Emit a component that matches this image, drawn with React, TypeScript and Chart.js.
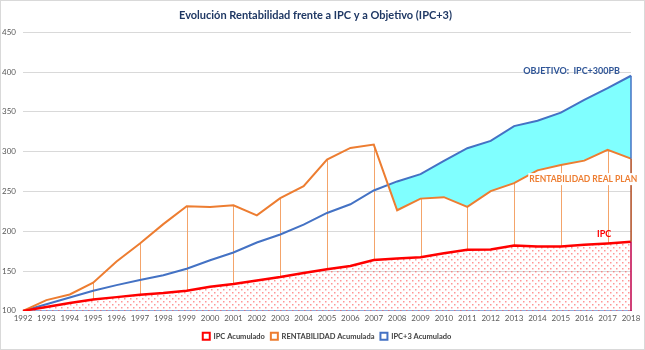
import React, { useEffect, useRef } from "react";
import { Chart, registerables } from "chart.js";

Chart.register(...registerables);

const years = [
  "1992", "1993", "1994", "1995", "1996", "1997", "1998", "1999", "2000",
  "2001", "2002", "2003", "2004", "2005", "2006", "2007", "2008", "2009",
  "2010", "2011", "2012", "2013", "2014", "2015", "2016", "2017", "2018",
];

const ipcAcumulado = [
  100, 105, 110, 114.3, 117.3, 120.2, 122.4, 125.3, 130.3, 133.7, 138.3, 142.6,
  147.6, 152.2, 156.5, 164, 165.7, 167.4, 172.5, 176.7, 177, 182.1, 180.8,
  180.8, 183, 184.6, 186.8,
];

const rentabilidadAcumulada = [
  100, 113.5, 120.6, 135.4, 162, 184.7, 209, 231.4, 230.6, 232.7, 220, 241.5,
  256.7, 290, 304.7, 308.9, 226.4, 241, 242.8, 230.6, 250.4, 260.5, 276.5,
  283.2, 288.7, 302.2, 291.2,
];

const ipcMas3Acumulado = [
  100, 108.4, 116.9, 125.3, 132.4, 138.7, 144.7, 153, 163.6, 173.3, 185.9, 196,
  208.3, 223, 233.9, 251.2, 262.6, 271.8, 288.3, 304.3, 313.5, 332.1, 338.8,
  348.9, 365, 379.7, 395.3,
];

const dropLineYears = [
  "1995", "1997", "1999", "2001", "2003", "2005", "2007", "2009", "2011",
  "2013", "2015", "2017", "2018",
];

const yMin = 100;
const yMax = 450;
const yStep = 50;

const titleText = "Evolución Rentabilidad frente a IPC y a Objetivo (IPC+3)";
const seriesLabels = ["IPC Acumulado", "RENTABILIDAD Acumulada", "IPC+3 Acumulado"];
const annotationObjetivo = "OBJETIVO:  IPC+300PB";
const annotationRentabilidad = "RENTABILIDAD REAL PLAN";
const annotationIpc = "IPC";

const FONT = "Lato, 'Open Sans', sans-serif";

const RED = "#FF0000";
const ORANGE = "#ED7D31";
const BLUE = "#4472C4";

function makeDotPattern(): CanvasPattern | string {
  const c = document.createElement("canvas");
  c.width = 6;
  c.height = 6;
  const g = c.getContext("2d");
  if (!g) return "rgba(255,128,128,0.3)";
  g.fillStyle = "rgba(255,80,80,0.6)";
  g.fillRect(1, 1, 1.5, 1.5);
  g.fillRect(4, 4, 1.5, 1.5);
  const p = g.createPattern(c, "repeat");
  return p || "rgba(255,128,128,0.3)";
}

const dropLinesPlugin = {
  id: "dropLines",
  beforeDatasetsDraw(chart: any) {
    const { ctx, scales } = chart;
    const x = scales.x;
    const y = scales.y;
    ctx.save();
    ctx.lineWidth = 1;
    ctx.strokeStyle = "#F4A46A";
    dropLineYears.forEach((yr) => {
      const i = years.indexOf(yr);
      if (i < 0) return;
      const px = Math.round(x.getPixelForValue(i)) + 0.5;
      ctx.beginPath();
      ctx.moveTo(px, y.getPixelForValue(rentabilidadAcumulada[i]));
      ctx.lineTo(px, y.getPixelForValue(ipcAcumulado[i]));
      ctx.stroke();
    });
    ctx.restore();
  },
  afterDatasetsDraw(chart: any) {
    const { ctx, scales } = chart;
    const x = scales.x;
    const y = scales.y;
    const last = years.length - 1;
    const px = x.getPixelForValue(last);
    ctx.save();
    ctx.lineWidth = 1.5;
    ctx.strokeStyle = BLUE;
    ctx.beginPath();
    ctx.moveTo(px, y.getPixelForValue(ipcMas3Acumulado[last]));
    ctx.lineTo(px, y.getPixelForValue(rentabilidadAcumulada[last]));
    ctx.stroke();
    ctx.strokeStyle = "#B05A3A";
    ctx.beginPath();
    ctx.moveTo(px, y.getPixelForValue(rentabilidadAcumulada[last]));
    ctx.lineTo(px, y.getPixelForValue(ipcAcumulado[last]));
    ctx.stroke();
    ctx.strokeStyle = "#C0004A";
    ctx.beginPath();
    ctx.moveTo(px, y.getPixelForValue(ipcAcumulado[last]));
    ctx.lineTo(px, y.getPixelForValue(yMin));
    ctx.stroke();
    ctx.restore();
  },
  afterDraw(chart: any) {
    const { ctx, scales } = chart;
    const x = scales.x;
    const y = scales.y;
    const last = years.length - 1;
    ctx.save();
    ctx.textBaseline = "middle";

    ctx.font = `bold 9px ${FONT}`;
    ctx.textAlign = "right";
    ctx.fillStyle = "#2F5597";
    ctx.fillText(annotationObjetivo, x.getPixelForValue(last) - 11, y.getPixelForValue(401.5));

    ctx.font = `bold 8.5px ${FONT}`;
    ctx.textAlign = "left";
    const rx = x.getPixelForValue(last - 4.35);
    const ry = y.getPixelForValue(265.5);
    const w = ctx.measureText(annotationRentabilidad).width;
    ctx.fillStyle = "#FFFFFF";
    ctx.fillRect(rx - 1, ry - 6, w + 2, 12);
    ctx.fillStyle = ORANGE;
    ctx.fillText(annotationRentabilidad, rx, ry);

    ctx.font = `bold 9px ${FONT}`;
    ctx.textAlign = "center";
    ctx.fillStyle = RED;
    ctx.fillText(annotationIpc, x.getPixelForValue(last - 1.15), y.getPixelForValue(197));
    ctx.restore();
  },
};

export default function App() {
  const ref = useRef<HTMLCanvasElement | null>(null);

  useEffect(() => {
    if (!ref.current) return;
    const pattern = makeDotPattern();
    const chart = new Chart(ref.current, {
      type: "line",
      data: {
        labels: years,
        datasets: [
          {
            label: seriesLabels[0],
            data: ipcAcumulado,
            borderColor: RED,
            backgroundColor: pattern as any,
            borderWidth: 2.5,
            pointRadius: 0,
            tension: 0,
            fill: "start",
          },
          {
            label: seriesLabels[1],
            data: rentabilidadAcumulada,
            borderColor: ORANGE,
            backgroundColor: ORANGE,
            borderWidth: 2,
            pointRadius: 0,
            tension: 0,
            fill: false,
          },
          {
            label: seriesLabels[2],
            data: ipcMas3Acumulado,
            borderColor: BLUE,
            backgroundColor: BLUE,
            borderWidth: 2,
            pointRadius: 0,
            tension: 0,
            fill: { target: 1, above: "#80FFFF", below: "rgba(0,0,0,0)" },
          },
        ],
      },
      options: {
        animation: false,
        responsive: false,
        maintainAspectRatio: false,
        layout: { padding: { left: 0, right: 14, top: 0, bottom: 0 } },
        plugins: {
          title: {
            display: true,
            text: titleText,
            color: "#1F3864",
            font: { family: FONT, size: 11, weight: "bold" },
            padding: { top: 9, bottom: 10 },
          },
          legend: {
            position: "bottom",
            fullSize: false,
            labels: {
              boxWidth: 7,
              boxHeight: 7,
              padding: 6,
              color: "#404040",
              font: { family: FONT, size: 7.5, weight: "bold" },
              generateLabels: (c: any) =>
                c.data.datasets.map((ds: any, i: number) => ({
                  text: ds.label,
                  fillStyle: "#FFFFFF",
                  strokeStyle: ds.borderColor,
                  lineWidth: 2,
                  hidden: false,
                  datasetIndex: i,
                  fontColor: "#404040",
                })),
            },
          },
          tooltip: { enabled: false },
        },
        scales: {
          x: {
            offset: false,
            grid: { color: "rgba(0,0,0,0)", drawTicks: false },
            border: { display: true, color: "#8FAADC", width: 1 },
            ticks: {
              color: "#595959",
              font: { family: FONT, size: 8 },
              padding: 3,
              maxRotation: 0,
              autoSkip: false,
            },
          },
          y: {
            min: yMin,
            max: yMax,
            grid: { color: "#D9D9D9", drawTicks: false },
            border: { display: false },
            ticks: {
              stepSize: yStep,
              color: "#595959",
              font: { family: FONT, size: 8 },
              padding: 7,
            },
            afterFit: (s: any) => {
              s.width = 23;
            },
          },
        },
      },
      plugins: [dropLinesPlugin],
    });
    return () => chart.destroy();
  }, []);

  return (
    <div
      style={{
        position: "absolute",
        left: 0,
        top: 0,
        width: 645,
        height: 350,
        background: "#fff",
      }}
    >
      <canvas ref={ref} width={645} height={350} style={{ display: "block" }} />
      <div
        style={{
          position: "absolute",
          left: 0,
          top: 0,
          width: 643,
          height: 348,
          border: "1px solid #D9D9D9",
          pointerEvents: "none",
        }}
      />
    </div>
  );
}
